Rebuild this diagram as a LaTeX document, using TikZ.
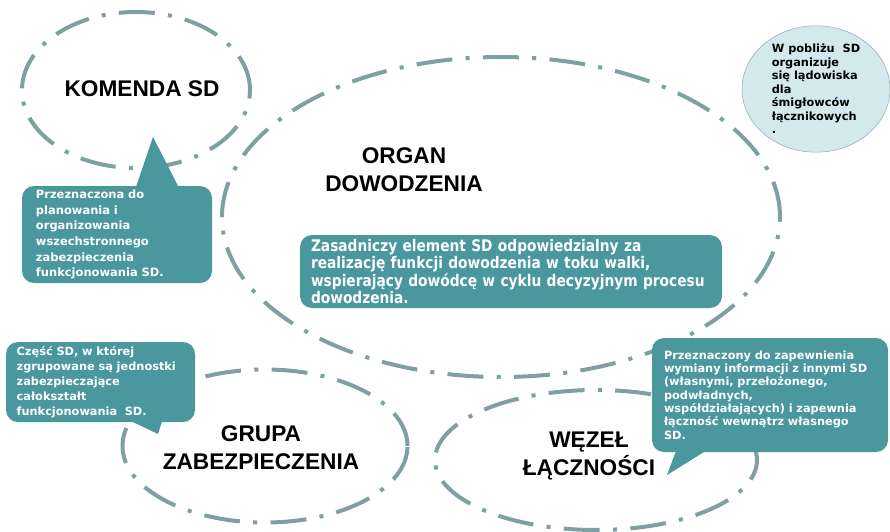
\documentclass[tikz,border=0pt]{standalone}
\usepackage{fontspec}
\setmainfont{Liberation Sans}
\newfontfamily\callfont{DejaVu Sans}
\newfontfamily\orgfont[FakeStretch=0.86]{DejaVu Sans}
\usetikzlibrary{shapes.geometric}
\definecolor{rimgray}{RGB}{127,160,163}
\definecolor{callteal}{RGB}{74,152,158}
\definecolor{heliblue}{RGB}{212,233,238}
\definecolor{heliedge}{RGB}{150,172,180}

\begin{document}
\begin{tikzpicture}[x=0.75pt, y=-0.75pt,
  rim/.style={draw=rimgray, line width=3pt, dash pattern=on 27pt off 10pt on 3pt off 10pt, ellipse, inner sep=0pt},
  title/.style={align=center, font=\bfseries\fontsize{17}{21}\selectfont},
  callbox/.style={fill=callteal, rounded corners=9pt, text=white, align=left, inner ysep=0pt, font=\callfont\bfseries\fontsize{8.5}{11.3}\selectfont},
  pointer/.style={fill=callteal}]
\useasboundingbox (0,0) rectangle (890,532);

% owale
\node[rim, minimum width=171pt, minimum height=117pt] (komenda) at (136,90) {};
\node[title] (komtxt) at (142,89) {KOMENDA SD};
\node[rim, minimum width=418.5pt, minimum height=240pt] (organ) at (501,217) {};
\node[title] (organtxt) at (404,170) {ORGAN\\DOWODZENIA};
\node[rim, minimum width=213.75pt, minimum height=114.75pt] (grupa) at (265,446) {};
\node[title] (gruptxt) at (261,448) {GRUPA\\ZABEZPIECZENIA};
\node[rim, minimum width=241.5pt, minimum height=105pt] (wezel) at (596,460) {};
\node[title] (weztxt) at (589,456) {WĘZEŁ\\ŁĄCZNOŚCI};

% ladowisko
\node[ellipse, draw=heliedge, fill=heliblue, minimum width=111pt, minimum height=91.5pt, inner sep=0pt, align=left,
  font=\callfont\bfseries\fontsize{8.5}{10.1}\selectfont] (heli) at (816,89)
  {W pobliżu~ SD\\organizuje\\się lądowiska\\dla\\śmigłowców\\łącznikowych\\.};

% objasnienia
\node[callbox, text width=121.5pt, inner xsep=10.5pt, minimum height=72.75pt, font=\callfont\bfseries\fontsize{8.6}{11.8}\selectfont] (kombox) at (117,234.5)
  {Przeznaczona do\\planowania i\\organizowania\\wszechstronnego\\zabezpieczenia\\funkcjonowania SD.};
\node[callbox, text width=300pt, inner xsep=8.25pt, minimum height=54.75pt, font=\orgfont\bfseries\fontsize{12}{11.5}\selectfont] (orgbox) at (511,271.5)
  {Zasadniczy element SD odpowiedzialny za\\realizację funkcji dowodzenia w toku walki,\\wspierający dowódcę w cyklu decyzyjnym procesu\\dowodzenia.};
\node[callbox, text width=125.75pt, inner xsep=8pt, minimum height=60pt, font=\callfont\bfseries\fontsize{8.5}{11.25}\selectfont] (grupbox) at (100.5,382)
  {Część SD, w której\\zgrupowane są jednostki\\zabezpieczające\\całokształt\\funkcjonowania~ SD.};
\node[callbox, text width=159pt, inner xsep=9pt, minimum height=85.5pt, font=\callfont\bfseries\fontsize{8.5}{10}\selectfont] (wezbox) at (770,395)
  {Przeznaczony do zapewnienia\\wymiany informacji z innymi SD\\(własnymi, przełożonego,\\podwładnych,\\współdziałających) i zapewnia\\łączność wewnątrz własnego\\SD.};

% wskazniki
\coordinate (komtip) at (153,137);
\coordinate (gruptip) at (158,434);
\coordinate (weztip) at (667,475);
\fill[pointer] ([xshift=13.5pt,yshift=-3pt]kombox.north) -- (komtip) -- ([xshift=47.25pt,yshift=-3pt]kombox.north) -- cycle;
\fill[pointer] ([xshift=18.4pt,yshift=3pt]grupbox.south) -- (gruptip) -- ([xshift=46.9pt,yshift=3pt]grupbox.south) -- cycle;
\fill[pointer] ([xshift=-69.75pt,yshift=3pt]wezbox.south) -- (weztip) -- ([xshift=-45pt,yshift=3pt]wezbox.south) -- cycle;
\end{tikzpicture}
\end{document}
